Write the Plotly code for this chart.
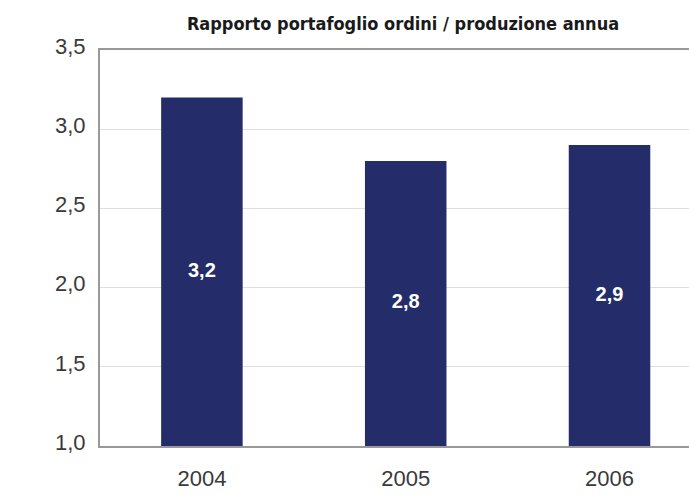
import plotly.graph_objects as go

# Ratio of order backlog to annual production
years = ["2004", "2005", "2006"]
ratio = [3.2, 2.8, 2.9]
y_ticks = [1.0, 1.5, 2.0, 2.5, 3.0, 3.5]
y_floor = 1.0

x_pos = list(range(len(years)))

fig = go.Figure()

fig.add_trace(
    go.Bar(
        x=x_pos,
        y=ratio,
        width=0.40,
        marker=dict(color="#242c6a", line=dict(width=0)),
        hovertemplate="%{y:.1f}<extra></extra>",
    )
)

# value labels centred on the visible part of each bar (axis starts at 1,0)
fig.add_trace(
    go.Scatter(
        x=x_pos,
        y=[(y_floor + r) / 2 for r in ratio],
        mode="text",
        text=[f"{r:.1f}".replace(".", ",") for r in ratio],
        textposition="middle center",
        textfont=dict(color="white", size=20, family="Liberation Sans", weight="bold"),
        hoverinfo="skip",
    )
)

fig.update_layout(
    width=689,
    height=495,
    margin=dict(l=100, r=0, t=50, b=49),
    plot_bgcolor="white",
    paper_bgcolor="white",
    separators=",.",
    showlegend=False,
    title=dict(
        text="<b>Rapporto portafoglio ordini / produzione annua</b>",
        x=403 / 689,
        xanchor="center",
        y=1 - 24 / 495,
        yanchor="middle",
        font=dict(family="DejaVu Sans Condensed, Liberation Sans", size=18, color="#1a1a1a"),
    ),
)

fig.update_xaxes(
    range=[-0.5, 2.39],
    tickvals=x_pos,
    ticktext=years,
    showgrid=False,
    showline=True,
    linecolor="#999999",
    linewidth=2,
    mirror=True,
    ticks="",
    ticklabelstandoff=12,
    tickfont=dict(family="Liberation Sans", size=22, color="#3a3a3a"),
    zeroline=False,
)

fig.update_yaxes(
    range=[y_floor, 3.5],
    tickvals=y_ticks,
    tickformat=".1f",
    showgrid=True,
    gridcolor="#dedede",
    gridwidth=1,
    showline=True,
    linecolor="#999999",
    linewidth=2,
    ticks="",
    ticklabelstandoff=8,
    ticklabelshift=-4,
    tickfont=dict(family="Liberation Sans", size=22, color="#3a3a3a"),
    zeroline=False,
)

fig.write_html("out.html")
